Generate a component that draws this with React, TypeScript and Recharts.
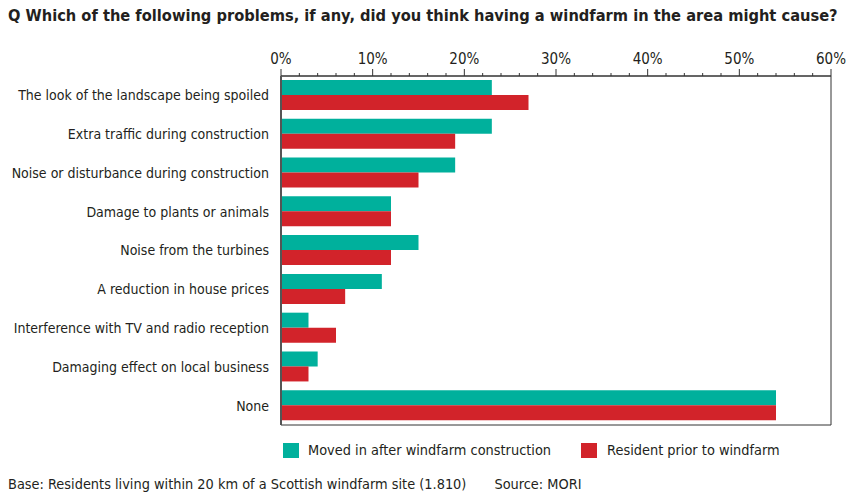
import { BarChart, Bar, XAxis, YAxis, ReferenceArea } from "recharts";

const categories = [
  "The look of the landscape being spoiled",
  "Extra traffic during construction",
  "Noise or disturbance during construction",
  "Damage to plants or animals",
  "Noise from the turbines",
  "A reduction in house prices",
  "Interference with TV and radio reception",
  "Damaging effect on local business",
  "None",
];
const movedIn = [23, 23, 19, 12, 15, 11, 3, 4, 54];
const resident = [27, 19, 15, 12, 12, 7, 6, 3, 54];
// every 2% gets a small tick, every 10% a long one with a label
const axisTicks = [0, 2, 4, 6, 8, 10, 12, 14, 16, 18, 20, 22, 24, 26, 28, 30, 32, 34, 36, 38, 40, 42, 44, 46, 48, 50, 52, 54, 56, 58, 60];

const data = categories.map((name, i) => ({
  name,
  moved: movedIn[i],
  resident: resident[i],
}));

const GREEN = "#00b09c";
const RED = "#d2232a";
const INK = "#231f20";
const FONT = "'DejaVu Sans', sans-serif";

function TopTick(props: any) {
  const { x, y, payload } = props;
  const v = payload.value as number;
  const major = v % 10 === 0;
  return (
    <g>
      <line x1={x} x2={x} y1={y} y2={y - (major ? 7 : 3)} stroke="#333" strokeWidth={1} />
      {major && (
        <text x={x} y={y - 12} textAnchor="middle" fontSize={15} fill={INK} style={{ fontStretch: "condensed" }}>
          {`${v}%`}
        </text>
      )}
    </g>
  );
}

export default function App() {
  return (
    <div
      style={{
        position: "absolute",
        left: 0,
        top: 0,
        width: 853,
        height: 496,
        background: "#fff",
        fontFamily: FONT,
        fontStretch: "condensed",
        color: INK,
      }}
    >
      <div
        style={{
          position: "absolute",
          left: 8,
          top: 6,
          fontSize: 16.3,
          fontWeight: 700,
          whiteSpace: "nowrap",
        }}
      >
        Q Which of the following problems, if any, did you think having a windfarm in the area might cause?
      </div>

      <BarChart
        width={853}
        height={496}
        data={data}
        layout="vertical"
        margin={{ top: 0, right: 22, bottom: 71, left: 0 }}
        barGap={0}
        barSize={15}
        style={{ position: "absolute", left: 0, top: 0, fontStretch: "condensed" }}
      >
        <XAxis
          type="number"
          orientation="top"
          domain={[0, 60]}
          ticks={axisTicks}
          interval={0}
          tickSize={0}
          tickMargin={0}
          tickLine={false}
          axisLine={{ stroke: "#333", strokeWidth: 1 }}
          tick={<TopTick />}
          height={76}
        />
        <YAxis
          type="category"
          dataKey="name"
          width={281}
          tickSize={0}
          tickMargin={12}
          axisLine={{ stroke: "#555", strokeWidth: 2 }}
          tick={{ fontSize: 14, fill: INK }}
          interval={0}
        />
        <ReferenceArea x1={0} x2={60} fill="none" stroke="#333" strokeWidth={1} ifOverflow="visible" />
        <Bar dataKey="moved" name="Moved in after windfarm construction" fill={GREEN} isAnimationActive={false} />
        <Bar dataKey="resident" name="Resident prior to windfarm" fill={RED} isAnimationActive={false} />
      </BarChart>

      <div
        style={{
          position: "absolute",
          left: 283,
          top: 442,
          display: "flex",
          alignItems: "center",
          fontSize: 14.4,
          whiteSpace: "nowrap",
        }}
      >
        <span style={{ display: "inline-block", width: 16, height: 15, background: GREEN, marginRight: 9 }} />
        <span>Moved in after windfarm construction</span>
        <span style={{ display: "inline-block", width: 16, height: 15, background: RED, marginLeft: 30, marginRight: 10 }} />
        <span>Resident prior to windfarm</span>
      </div>

      <div
        style={{
          position: "absolute",
          left: 8,
          top: 476,
          fontSize: 14.4,
          whiteSpace: "nowrap",
        }}
      >
        Base: Residents living within 20 km of a Scottish windfarm site (1.810)
        <span style={{ marginLeft: 28 }}>Source: MORI</span>
      </div>
    </div>
  );
}
